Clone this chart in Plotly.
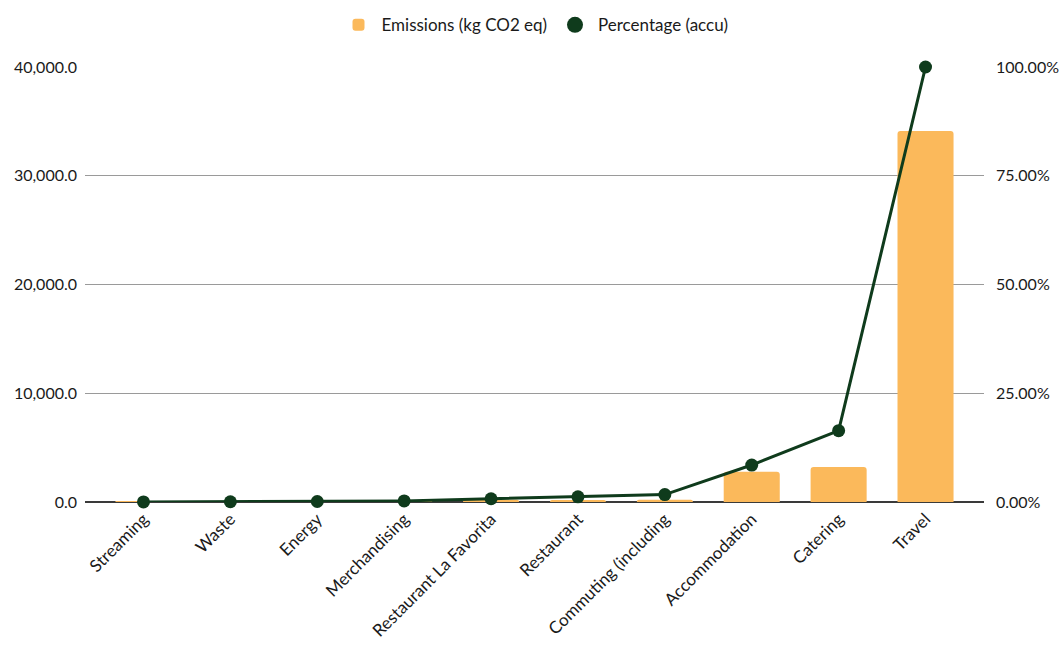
import plotly.graph_objects as go

# Emission categories, sorted ascending
categories = [
    "Streaming", "Waste", "Energy", "Merchandising", "Restaurant La Favorita",
    "Restaurant", "Commuting (including", "Accommodation", "Catering", "Travel",
]

# Emissions per category (kg CO2 eq)
emissions = [8, 16, 25, 53, 204, 184, 204, 2775, 3224, 34115]

# Accumulated share of total emissions (%)
percentage_accu = [0.02, 0.06, 0.12, 0.25, 0.75, 1.2, 1.7, 8.5, 16.4, 100.0]

left_ticks = [0, 10000, 20000, 30000, 40000]
right_ticks = [0, 25, 50, 75, 100]

BAR_COLOR = "#FBB95B"
LINE_COLOR = "#0F3B1C"
TEXT_COLOR = "#1a1a1a"
FONT = "Lato, 'Open Sans', sans-serif"

fig = go.Figure()

fig.add_trace(go.Bar(
    x=categories,
    y=emissions,
    name="Emissions (kg CO2 eq)",
    marker=dict(color=BAR_COLOR, cornerradius=3, line=dict(width=0)),
    width=0.645,
    yaxis="y",
))

fig.add_trace(go.Scatter(
    x=categories,
    y=percentage_accu,
    mode="lines+markers",
    line=dict(color=LINE_COLOR, width=3),
    marker=dict(color=LINE_COLOR, size=13),
    yaxis="y2",
    showlegend=False,
    cliponaxis=False,
))

# Legend entry shown as a plain dot
fig.add_trace(go.Scatter(
    x=[None], y=[None],
    mode="markers",
    name="Percentage (accu)",
    marker=dict(color=LINE_COLOR, size=18),
    yaxis="y2",
))

fig.update_layout(
    width=1059,
    height=648,
    margin=dict(l=85, r=75, t=67, b=146, autoexpand=False),
    paper_bgcolor="white",
    plot_bgcolor="white",
    font=dict(family=FONT, size=16, color=TEXT_COLOR),
    bargap=0.355,
    showlegend=True,
    legend=dict(
        orientation="h",
        x=0.5, xanchor="center",
        y=1.096, yanchor="middle",
        font=dict(size=17, color=TEXT_COLOR),
        itemsizing="trace",
        traceorder="normal",
        itemwidth=36,
    ),
    xaxis=dict(
        range=[-0.673, 9.673],
        tickangle=-45,
        showgrid=False,
        showline=False,
        ticks="",
        ticklabelstandoff=3,
        tickfont=dict(size=17, color=TEXT_COLOR),
        fixedrange=True,
        automargin=False,
    ),
    yaxis=dict(
        range=[0, 40000],
        tickvals=left_ticks,
        ticktext=[f"{v:,.1f}" for v in left_ticks],
        showgrid=True,
        gridcolor="#9a9a9a",
        gridwidth=1,
        zeroline=True,
        zerolinecolor="#3a3a3a",
        zerolinewidth=2,
        ticks="",
        ticklabelstandoff=7,
        tickfont=dict(size=16, color=TEXT_COLOR),
        automargin=False,
    ),
    yaxis2=dict(
        range=[0, 100],
        tickvals=right_ticks,
        ticktext=[f"{v:.2f}%" for v in right_ticks],
        overlaying="y",
        side="right",
        showgrid=False,
        zeroline=False,
        ticks="",
        ticklabelstandoff=11,
        tickfont=dict(size=16, color=TEXT_COLOR),
        automargin=False,
    ),
)

fig.write_html("out.html")
